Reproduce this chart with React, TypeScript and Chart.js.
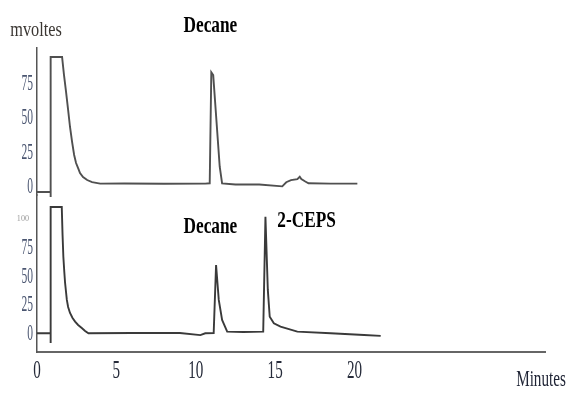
import React, { useEffect, useRef } from "react";
import { Chart, registerables } from "chart.js";

Chart.register(...registerables);

// ---- data ----
const topTimes = [0, 0.86, 0.86, 0.86, 1.56, 1.58, 1.70, 1.83, 1.96, 2.08, 2.21, 2.34, 2.46, 2.59, 2.71, 2.90, 3.16, 3.47, 3.98, 5.5, 8.0, 10.6, 10.88, 10.98, 11.1, 11.51, 11.66, 12.5, 14.0, 15.45, 15.7, 16.0, 16.4, 16.55, 16.65, 16.9, 17.1, 18.5, 20.18];
const topSignal = [-3.6, -3.6, -7.3, 94.7, 94.7, 94.7, 81.6, 69.2, 56.1, 43.7, 32.8, 23.3, 17.5, 13.8, 10.2, 7.3, 5.1, 3.6, 2.5, 2.6, 2.4, 2.5, 2.7, 83.5, 81.5, 14.8, 2.7, 1.8, 1.8, 0.5, 3.5, 5.0, 5.8, 7.5, 5.8, 4.0, 2.7, 2.5, 2.5];

const bottomTimes = [0, 0.86, 0.86, 0.86, 1.56, 1.61, 1.66, 1.72, 1.77, 1.88, 1.96, 2.08, 2.24, 2.40, 2.59, 2.82, 3.03, 3.24, 6.0, 9.0, 10.29, 10.6, 11.13, 11.28, 11.45, 11.66, 11.98, 13.0, 14.25, 14.39, 14.54, 14.66, 14.92, 15.34, 16.4, 18.5, 20.6, 21.65];
const bottomSignal = [0.6, 0.6, -7.8, 110.4, 110.4, 86.1, 67.2, 53.9, 44.3, 29.6, 23.5, 18.3, 13.9, 10.7, 7.8, 5.2, 2.6, 0.6, 0.8, 0.8, -1.0, 0.6, 0.8, 60.0, 29.6, 12.2, 2.0, 1.7, 2.0, 102.0, 38.3, 15.0, 9.3, 6.3, 2.0, 0.6, -0.9, -1.7];

const xTickValues = [0, 5, 10, 15, 20];
const xTickLabels = ["0", "5", "10", "15", "20"];
const topTickValues = [0, 25, 50, 75];
const topTickLabels = ["0", "25", "50", "75"];
const bottomTickValues = [0, 25, 50, 75, 100];
const bottomTickLabels = ["0", "25", "50", "75", "100"];

// annotation texts: [text, x (minutes), y (value), y scale]
const peakLabels = [
  { text: "Decane", x: 10.92, y: 117.3, scale: "yTop" },
  { text: "Decane", x: 10.92, y: 93.0, scale: "yBot" },
  { text: "2-CEPS", x: 16.98, y: 98.3, scale: "yBot" },
];
const yTitle = { text: "mvoltes", x: -0.06, y: 114.3, scale: "yTop" };
const xTitle = { text: "Minutes", x: 31.75, y: -40, scale: "yBot" };

function drawSquashed(
  ctx: CanvasRenderingContext2D,
  text: string,
  x: number,
  y: number,
  font: string,
  sx: number,
  color: string,
  align: CanvasTextAlign
) {
  ctx.save();
  ctx.translate(x, y);
  ctx.scale(sx, 1);
  ctx.font = font;
  ctx.fillStyle = color;
  ctx.textAlign = align;
  ctx.textBaseline = "middle";
  ctx.fillText(text, 0, 0);
  ctx.restore();
}

const textPlugin = {
  id: "scanText",
  afterDraw(chart: any) {
    const ctx = chart.ctx as CanvasRenderingContext2D;
    const xs = chart.scales.x;
    const yt = chart.scales.yTop;
    const yb = chart.scales.yBot;
    // x tick labels
    xTickValues.forEach((v, i) => {
      drawSquashed(ctx, xTickLabels[i], xs.getPixelForValue(v), xs.top + 19, "26px 'Liberation Serif'", 0.58, "#262b3a", "center");
    });
    // y tick labels
    topTickValues.forEach((v, i) => {
      drawSquashed(ctx, topTickLabels[i], yt.right - 4, yt.getPixelForValue(v), "23px 'Liberation Serif'", 0.5, "#4a5570", "right");
    });
    bottomTickValues.forEach((v, i) => {
      const faint = v === 100;
      drawSquashed(
        ctx,
        bottomTickLabels[i],
        yb.right - 4 - (faint ? 4 : 0),
        yb.getPixelForValue(v),
        faint ? "9px 'Liberation Serif'" : "23px 'Liberation Serif'",
        faint ? 0.9 : 0.5,
        faint ? "#9a9a9a" : "#4a5570",
        "right"
      );
    });
    // peak labels
    peakLabels.forEach((p) => {
      const sc = chart.scales[p.scale];
      drawSquashed(ctx, p.text, xs.getPixelForValue(p.x), sc.getPixelForValue(p.y), "bold 24px 'Liberation Serif'", 0.72, "#000", "center");
    });
    {
      const sc = chart.scales[yTitle.scale];
      drawSquashed(ctx, yTitle.text, xs.getPixelForValue(yTitle.x), sc.getPixelForValue(yTitle.y), "22px 'Liberation Serif'", 0.74, "#3b3733", "center");
    }
    {
      const sc = chart.scales[xTitle.scale];
      drawSquashed(ctx, xTitle.text, xs.getPixelForValue(xTitle.x), sc.getPixelForValue(xTitle.y), "23px 'Liberation Serif'", 0.66, "#1e2334", "center");
    }
  },
};

export default function App() {
  const ref = useRef<HTMLCanvasElement | null>(null);
  useEffect(() => {
    if (!ref.current) return;
    const chart = new Chart(ref.current, {
      type: "line",
      data: {
        datasets: [
          {
            label: "bottom",
            data: bottomTimes.map((t, i) => ({ x: t, y: bottomSignal[i] })),
            xAxisID: "x",
            yAxisID: "yBot",
            borderColor: "#3a3a3a",
            borderWidth: 1.9,
            pointRadius: 0,
            tension: 0,
            clip: false,
          },
          {
            label: "top",
            data: topTimes.map((t, i) => ({ x: t, y: topSignal[i] })),
            xAxisID: "x",
            yAxisID: "yTop",
            borderColor: "#505050",
            borderWidth: 1.9,
            pointRadius: 0,
            tension: 0,
            clip: false,
          },
        ],
      },
      options: {
        animation: false,
        responsive: false,
        events: [],
        layout: { padding: { top: 48, right: 21, left: 0, bottom: 0 } },
        plugins: { legend: { display: false }, tooltip: { enabled: false }, title: { display: false } },
        scales: {
          x: {
            type: "linear",
            position: "bottom",
            min: 0,
            max: 32,
            grid: { display: false },
            border: { display: true, color: "#666", width: 2 },
            ticks: { display: false },
            afterBuildTicks: (s: any) => {
              s.ticks = xTickValues.map((v) => ({ value: v }));
            },
            afterFit: (s: any) => {
              s.height = 42;
            },
          },
          yBot: {
            type: "linear",
            position: "left",
            stack: "traces",
            stackWeight: 157,
            min: -15.7,
            max: 120.9,
            grid: { display: false },
            border: { display: true, color: "#555", width: 1.5 },
            ticks: { display: false },
            afterBuildTicks: (s: any) => {
              s.ticks = bottomTickValues.map((v) => ({ value: v }));
            },
            afterFit: (s: any) => {
              s.width = 37;
            },
          },
          yTop: {
            type: "linear",
            position: "left",
            stack: "traces",
            stackWeight: 147,
            min: -5.8,
            max: 101.2,
            grid: { display: false },
            border: { display: true, color: "#555", width: 1.5 },
            ticks: { display: false },
            afterBuildTicks: (s: any) => {
              s.ticks = topTickValues.map((v) => ({ value: v }));
            },
            afterFit: (s: any) => {
              s.width = 37;
            },
          },
        },
      } as any,
      plugins: [textPlugin],
    });
    return () => chart.destroy();
  }, []);
  return (
    <div style={{ position: "fixed", left: 0, top: 0, width: 566, height: 394, background: "#fff" }}>
      <canvas ref={ref} width={566} height={394} style={{ display: "block" }} />
    </div>
  );
}
